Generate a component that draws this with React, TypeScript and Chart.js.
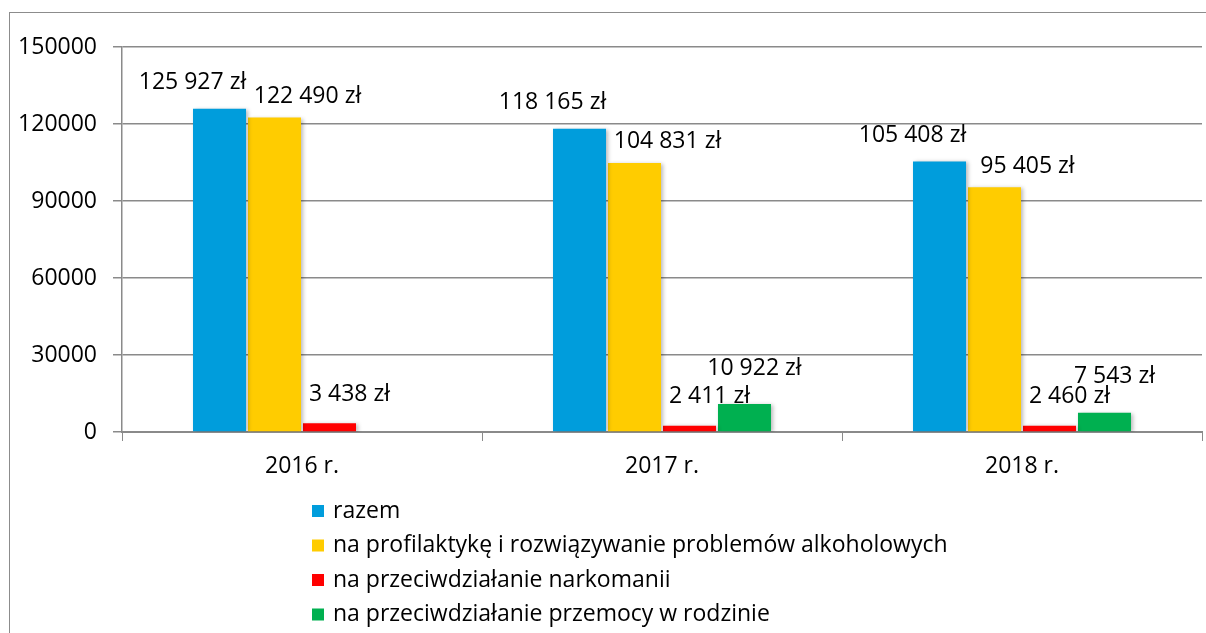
import React, { useEffect, useRef } from 'react';
import { Chart, registerables } from 'chart.js';

Chart.register(...registerables);

const categories = ['2016 r.', '2017 r.', '2018 r.'];
const seriesNames = [
  'razem',
  'na profilaktykę i rozwiązywanie problemów alkoholowych',
  'na przeciwdziałanie narkomanii',
  'na przeciwdziałanie przemocy w rodzinie',
];
const razem = [125927, 118165, 105408];
const alkohol = [122490, 104831, 95405];
const narkomania = [3438, 2411, 2460];
const przemoc: (number | null)[] = [null, 10922, 7543];
const seriesColors = ['#009DDC', '#FFCC00', '#FF0000', '#00B050'];
const yMin = 0;
const yMax = 150000;
const yStep = 30000;

const FONT_FAMILY = '"Open Sans", sans-serif';
const FONT_SIZE = 23;
const AXIS_COLOR = '#8a8a8a';

// label offsets (styling) per series: [dx, dy above bar top]
const labelOffsets = [
  [-27, 26],
  [33, 21],
  [20, 29],
  [10, 36],
];

const fmt = (v: number) => String(v).replace(/\B(?=(\d{3})+(?!\d))/g, ' ') + ' zł';

const shadowPlugin = {
  id: 'barShadow',
  beforeDatasetsDraw(chart: any) {
    const ctx = chart.ctx;
    ctx.save();
    ctx.shadowColor = 'rgba(0,0,0,0.28)';
    ctx.shadowBlur = 4;
    ctx.shadowOffsetX = 2;
    ctx.shadowOffsetY = 1;
  },
  afterDatasetsDraw(chart: any) {
    chart.ctx.restore();
  },
};

const labelPlugin = {
  id: 'valueLabels',
  afterDatasetsDraw(chart: any) {
    const ctx = chart.ctx;
    ctx.save();
    ctx.font = `${FONT_SIZE}px ${FONT_FAMILY}`;
    ctx.fillStyle = '#000';
    ctx.textAlign = 'center';
    ctx.textBaseline = 'middle';
    chart.data.datasets.forEach((ds: any, i: number) => {
      const meta = chart.getDatasetMeta(i);
      meta.data.forEach((bar: any, j: number) => {
        const v = ds.data[j];
        if (v === null || v === undefined) return;
        const [dx, dy] = labelOffsets[i];
        ctx.fillText(fmt(v), bar.x + dx, bar.y - dy);
      });
    });
    ctx.restore();
  },
};

const legendPlugin = {
  id: 'vertLegend',
  afterDraw(chart: any) {
    const ctx = chart.ctx;
    ctx.save();
    ctx.font = `${FONT_SIZE}px ${FONT_FAMILY}`;
    ctx.textBaseline = 'middle';
    ctx.textAlign = 'left';
    const x0 = 302;
    const y0 = chart.chartArea.bottom + 79;
    const step = 34.5;
    chart.data.datasets.forEach((ds: any, i: number) => {
      const y = y0 + i * step;
      ctx.fillStyle = ds.backgroundColor;
      ctx.fillRect(x0, y - 6, 12, 12);
      ctx.fillStyle = '#000';
      ctx.fillText(ds.label, x0 + 21, y);
    });
    ctx.restore();
  },
};

export default function App() {
  const ref = useRef<HTMLCanvasElement>(null);
  useEffect(() => {
    const seriesData = [razem, alkohol, narkomania, przemoc];
    const chart = new Chart(ref.current!, {
      type: 'bar',
      data: {
        labels: categories,
        datasets: seriesData.map((d, i) => ({
          label: seriesNames[i],
          data: d,
          backgroundColor: seriesColors[i],
          borderWidth: 0,
          categoryPercentage: 0.611,
          barPercentage: 0.964,
        })),
      },
      options: {
        animation: false,
        responsive: false,
        devicePixelRatio: 1,
        layout: { padding: { left: 0, right: 4, top: 34, bottom: 151 } },
        plugins: { legend: { display: false }, tooltip: { enabled: false } },
        scales: {
          x: {
            grid: {
              offset: true,
              drawOnChartArea: false,
              drawTicks: true,
              tickLength: 9,
              color: AXIS_COLOR,
            },
            border: { color: AXIS_COLOR, width: 2 },
            ticks: {
              font: { family: FONT_FAMILY, size: FONT_SIZE },
              color: '#000',
              padding: 12,
            },
            afterFit: (s: any) => {
              s.height = 50;
            },
          },
          y: {
            min: yMin,
            max: yMax,
            ticks: {
              stepSize: yStep,
              font: { family: FONT_FAMILY, size: FONT_SIZE },
              color: '#000',
              padding: 16,
              callback: (v: any) => String(v),
            },
            grid: { color: AXIS_COLOR, tickLength: 9, lineWidth: 1.5 },
            border: { color: AXIS_COLOR, width: 1.5 },
            afterFit: (s: any) => {
              s.width = 112;
            },
          },
        },
      },
      plugins: [shadowPlugin, labelPlugin, legendPlugin],
    });
    return () => chart.destroy();
  }, []);

  return (
    <div
      style={{
        position: 'absolute',
        left: 9,
        top: 12,
        borderLeft: '1px solid #8c8c8c',
        borderTop: '1px solid #8c8c8c',
        background: '#fff',
      }}
    >
      <canvas ref={ref} width={1196} height={620} style={{ display: 'block' }} />
    </div>
  );
}
